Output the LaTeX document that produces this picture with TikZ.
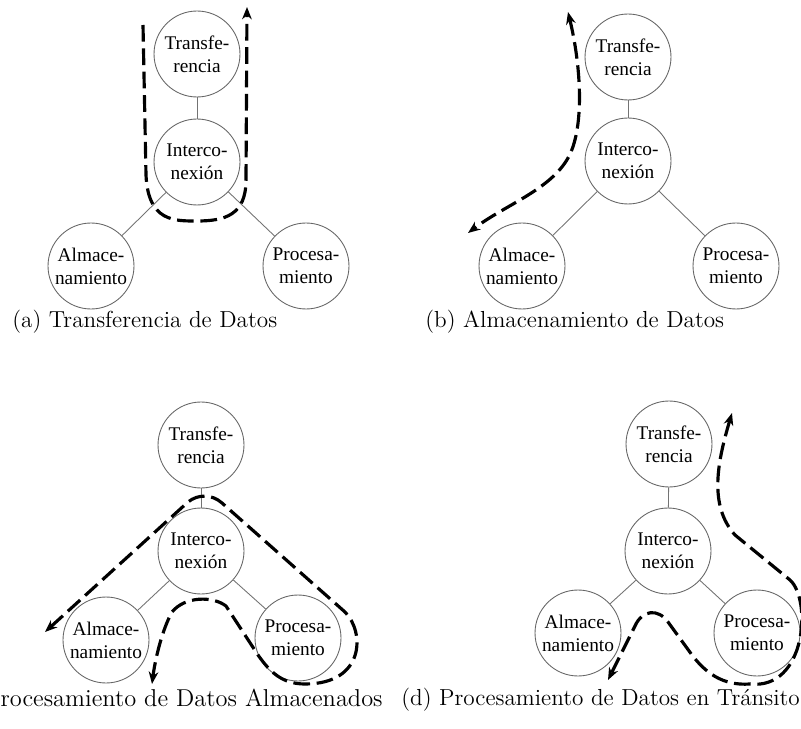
\documentclass[tikz,border=0pt]{standalone}
\usepackage{fontspec}
\newfontfamily\nodefont{Liberation Serif}
\usetikzlibrary{arrows.meta}
\tikzset{>={Stealth[length=7pt,width=5.5pt]}}
\tikzset{
  bloque/.style={circle, draw=black!60, line width=0.5pt, minimum size=1.72cm,
    inner sep=0pt, align=center, font=\nodefont\fontsize{11}{13}\selectfont},
  enlace/.style={draw=black!55, line width=0.5pt},
  flujo/.style={line width=1.8pt, dash pattern=on 9.5pt off 3.8pt},
  leyenda/.style={font=\fontsize{13.2}{15}\selectfont, inner sep=0pt}
}

\begin{document}
\begin{tikzpicture}[x=0.02cm, y=-0.02cm]
      \useasboundingbox (0,0) rectangle (801,729);
      % (a) transferencia
      \node[bloque] (trans-a) at (197,54) {Transfe-\\rencia};
      \node[bloque] (inter-a) at (197,162) {Interco-\\nexión};
      \node[bloque] (alm-a) at (91,266) {Almace-\\namiento};
      \node[bloque] (proc-a) at (306,266) {Procesa-\\miento};
      % (b) almacenamiento
      \node[bloque] (trans-b) at (628,57) {Transfe-\\rencia};
      \node[bloque] (inter-b) at (628,161) {Interco-\\nexión};
      \node[bloque] (alm-b) at (522,266) {Almace-\\namiento};
      \node[bloque] (proc-b) at (736,266) {Procesa-\\miento};
      % (c) procesamiento de datos almacenados
      \node[bloque] (trans-c) at (201,445) {Transfe-\\rencia};
      \node[bloque] (inter-c) at (201,551) {Interco-\\nexión};
      \node[bloque] (alm-c) at (106,640) {Almace-\\namiento};
      \node[bloque] (proc-c) at (298,638) {Procesa-\\miento};
      % (d) procesamiento en transito
      \node[bloque] (trans-d) at (669,444) {Transfe-\\rencia};
      \node[bloque] (inter-d) at (668,551) {Interco-\\nexión};
      \node[bloque] (alm-d) at (578,633) {Almace-\\namiento};
      \node[bloque] (proc-d) at (757,633) {Procesa-\\miento};
      \foreach \p in {a,b,c,d} {
        \draw[enlace] (trans-\p) -- (inter-\p);
        \draw[enlace] (inter-\p) -- (alm-\p);
        \draw[enlace] (inter-\p) -- (proc-\p);
      }
      % recorridos de los datos
      \draw[flujo,->] (143,25) -- (146,175) .. controls (148,222) and (175,221) .. (197,221)
        .. controls (225,221) and (246,215) .. (246,180) -- (247,7);
      \draw[flujo,<->] (568,12) .. controls (582,70) and (584,130) .. (568,158)
        .. controls (550,190) and (505,205) .. (468,233);
      \draw[flujo,<->] (45,632) -- (188,502) .. controls (198,494) and (212,494) .. (222,503)
        -- (345,612) .. controls (365,632) and (365,684) .. (305,684)
        .. controls (282,684) and (270,672) .. (258,655) -- (226,606)
        .. controls (213,596) and (185,596) .. (172,612)
        .. controls (162,630) and (155,660) .. (152,684);
      \draw[flujo,<->] (732,413) .. controls (718,460) and (708,505) .. (735,535) -- (790,580)
        .. controls (812,600) and (806,690) .. (750,684)
        .. controls (722,686) and (705,672) .. (692,655) -- (668,622)
        .. controls (658,608) and (642,610) .. (635,626) -- (608,680);
      % leyendas
      \node[leyenda, anchor=west] (cap-a) at (12,322) {(a) Transferencia de Datos};
      \node[leyenda, anchor=west] (cap-b) at (425,322) {(b) Almacenamiento de Datos};
      \node[leyenda, anchor=east, font=\fontsize{13.9}{16}\selectfont] (cap-c) at (383,700)
        {(c) Procesamiento de Datos Almacenados};
      \node[leyenda, anchor=west] (cap-d) at (401,700) {(d) Procesamiento de Datos en Tránsito};
\end{tikzpicture}
\end{document}
